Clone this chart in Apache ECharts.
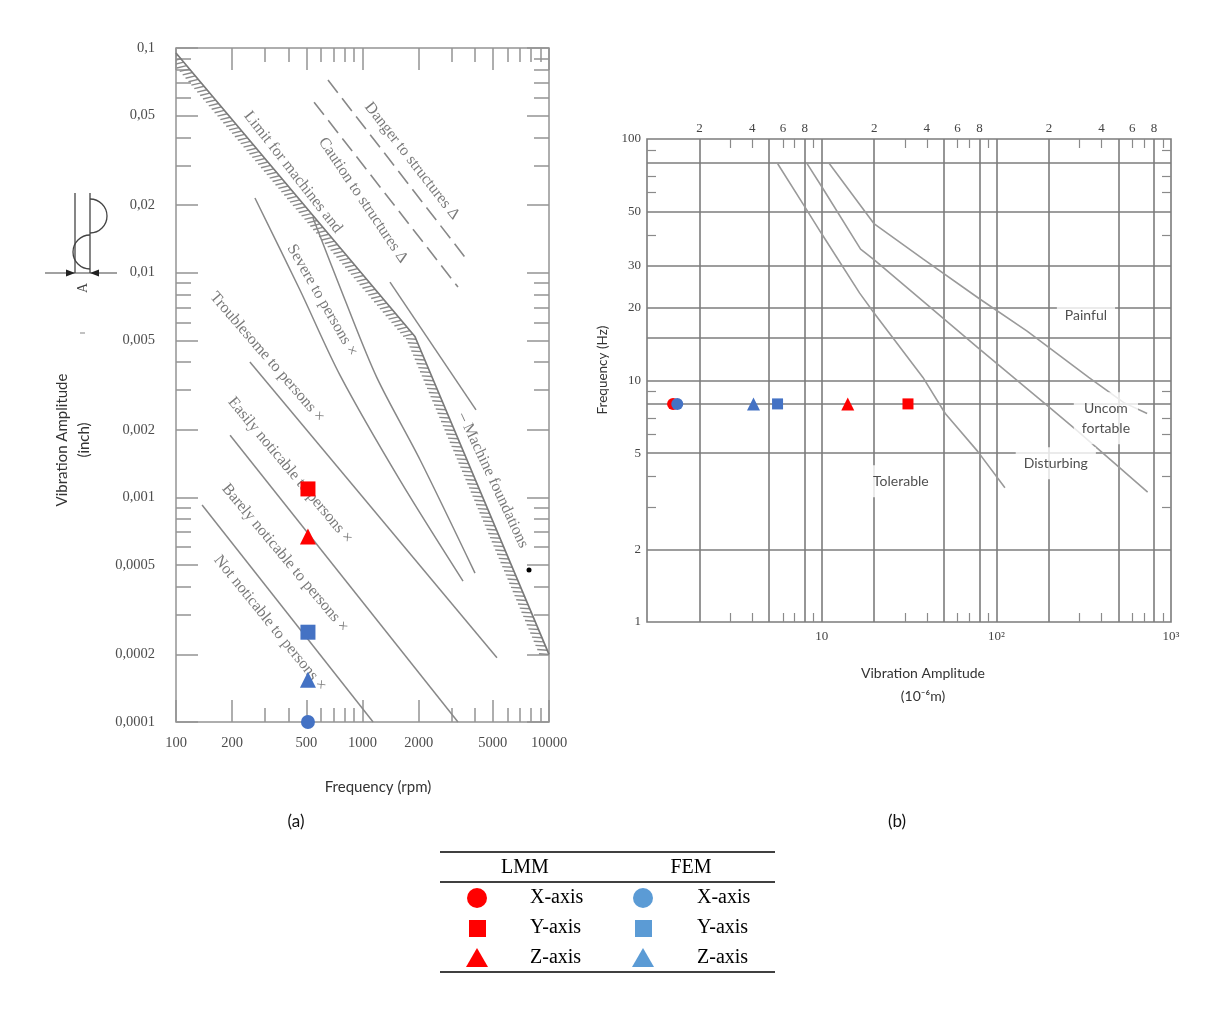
<!DOCTYPE html>
<html>
<head>
<meta charset="utf-8">
<title>Vibration limits</title>
<script src="https://cdn.jsdelivr.net/npm/echarts@6/dist/echarts.min.js"></script>
<style>
  html, body { margin: 0; background: #fff; }
  #chart { width: 1210px; height: 1011px; }
</style>
</head>
<body>
<div id="chart"></div>
<script>
// ---------- (a) amplitude (inch) against frequency (rpm) ----------
const rpmTicks = [100, 200, 500, 1000, 2000, 5000, 10000];
const rpmMinor = [300, 400, 600, 700, 800, 900, 3000, 4000, 6000, 7000, 8000, 9000];
const inchTicks = [0.0001, 0.0002, 0.0005, 0.001, 0.002, 0.005, 0.01, 0.02, 0.05, 0.1];
const inchTickText = ['0,0001', '0,0002', '0,0005', '0,001', '0,002', '0,005', '0,01', '0,02', '0,05', '0,1'];
const inchMinor = [0.0003, 0.0004, 0.0006, 0.0007, 0.0008, 0.0009,
  0.003, 0.004, 0.006, 0.007, 0.008, 0.009, 0.03, 0.04, 0.06, 0.07, 0.08, 0.09];

// boundary lines, [rpm, inch]
const notNoticeableTop = [[138, 0.000924], [1140, 0.0001]];
const barelyTop = [[195, 0.00189], [3250, 0.0001]];
const easilyTop = [[249, 0.0040], [5260, 0.000193]];
const troublesomeTop = [[265, 0.0215], [462, 0.00837], [757, 0.0035], [1590, 0.00119], [3460, 0.000424]];
const severeTop = [[543, 0.0175], [806, 0.00755], [1196, 0.0034], [2034, 0.00147], [4011, 0.00046]];
const machineLimit = [[100, 0.095], [1910, 0.0052], [10000, 0.0002]];
const foundationLine = [[1404, 0.00908], [4060, 0.00245]];
const cautionLine = [[550, 0.0574], [3251, 0.00863]];
const dangerLine = [[653, 0.072], [3634, 0.0114]];
const blackDot = [[7813, 0.000475]];

// text along the lines: [text, rpm, inch]
const leftNotes = [
  ['Danger to structures \u0394', 1842, 0.0314],
  ['Caution to structures \u0394', 1006, 0.0210],
  ['Limit for machines and', 424, 0.0280],
  ['Severe to persons \u00d7', 607, 0.00755],
  ['Troublesome to persons \u00d7', 308, 0.00421],
  ['Easily noticable to persons \u00d7', 409, 0.00132],
  ['Barely noticable to persons \u00d7', 384, 0.000537],
  ['Not noticable to persons \u00d7', 319, 0.000276],
  ['\u2013 Machine foundations', 5010, 0.00119]
];
const leftNoteAngles = [-52, -56, -52, -60, -49, -50, -50, -51, -65];

// results at about 510 rpm (LMM X lies below 0,0001)
const lmmRpmY = [[510, 0.00109]];
const lmmRpmZ = [[510, 0.00067]];
const femRpmX = [[510, 0.0001]];
const femRpmY = [[510, 0.000251]];
const femRpmZ = [[510, 0.000154]];

// ---------- (b) frequency (Hz) against amplitude (1e-6 m) ----------
const umGrid = [2, 5, 8, 10, 20, 50, 80, 100, 200, 500, 800];
const umMinor = [3, 4, 6, 7, 9, 30, 40, 60, 70, 90, 300, 400, 600, 700, 900];
const umTop = [2, 4, 6, 8, 20, 40, 60, 80, 200, 400, 600, 800];
const umBottom = [10, 100, 1000];
const umBottomText = ['10', '10\u00b2', '10\u00b3'];
const hzGrid = [2, 5, 8, 10, 15, 20, 30, 50, 80];
const hzMinor = [3, 4, 6, 7, 9, 40, 60, 70, 90];
const hzLabels = [1, 2, 5, 10, 20, 30, 50, 100];

const tolerableTop = [[5.6, 79], [7.8, 54], [10, 40.5], [16.5, 23], [20, 19], [38, 10.3], [51, 7.3], [78, 5.1], [112, 3.6]];
const disturbingTop = [[8.2, 79.6], [10.1, 62.8], [16.7, 35], [20, 31.6], [38, 21.3], [78, 13.7], [203, 7.7], [290, 6.2], [735, 3.45]];
const uncomfortableTop = [[11, 79.6], [20, 44.5], [38, 31.9], [80, 21.8], [150, 16], [338, 10.3], [537, 8.1], [730, 7.3]];

const rightNotes = [
  ['Painful', 326, 18.6],
  ['Uncom\nfortable', 424, 6.97],
  ['Disturbing', 219, 4.54],
  ['Tolerable', 28.4, 3.83]
];

// results at 8 Hz
const lmmHzX = [[1.41, 8]];
const lmmHzY = [[31.2, 8]];
const lmmHzZ = [[14.1, 8]];
const femHzX = [[1.49, 8]];
const femHzY = [[5.59, 8]];
const femHzZ = [[4.07, 8]];

// ---------- styles ----------
const RED = '#ff0000';
const BLUE = '#4472c4';
const BLUE_LEGEND = '#5b9bd5';
const SERIF = '"Liberation Serif", "DejaVu Serif", serif';
const SANS = 'Lato, "Noto Sans", sans-serif';
const tickA = { color: '#949494', width: 1.5 };
const tickB = { color: '#8a8a8a', width: 1.2 };
const gridLineB = { color: '#7c7c7c', width: 1.6 };

const chart = echarts.init(document.getElementById('chart'));

function ticksOnly(gridIndex, position, min, max, values, length, lineStyle) {
  return {
    type: 'log', logBase: 10, gridIndex, position, min, max,
    axisLine: { show: false },
    splitLine: { show: false },
    axisLabel: { show: false },
    axisTick: { show: true, inside: true, length, customValues: values, lineStyle }
  };
}

function withLabels(axis, values, formatter, margin, extra) {
  axis.axisLabel = Object.assign({
    show: true, customValues: values, formatter, margin,
    fontFamily: SERIF, fontSize: 14.5, color: '#4d4d4d'
  }, extra || {});
  return axis;
}

function findText(values, texts, v) {
  for (let i = 0; i < values.length; i++) {
    if (Math.abs(Math.log10(v / values[i])) < 1e-6) return texts[i];
  }
  return '';
}

const xAxes = [
  withLabels(ticksOnly(0, 'bottom', 100, 10000, rpmTicks, 22, tickA), rpmTicks, v => String(Math.round(v)), 14),
  ticksOnly(0, 'bottom', 100, 10000, rpmMinor, 14, tickA),
  ticksOnly(0, 'top', 100, 10000, rpmTicks, 22, tickA),
  ticksOnly(0, 'top', 100, 10000, rpmMinor, 14, tickA),
  withLabels(ticksOnly(1, 'bottom', 1, 1000, umGrid, 483, gridLineB), umBottom,
    v => findText(umBottom, umBottomText, v), 8, { fontSize: 13, color: '#444' }),
  ticksOnly(1, 'bottom', 1, 1000, umMinor, 9, tickB),
  withLabels(ticksOnly(1, 'top', 1, 1000, umMinor, 9, tickB), umTop,
    v => String(Math.round(v))[0], 4, { fontSize: 13, color: '#444' })
];

const yAxes = [
  withLabels(ticksOnly(0, 'left', 0.0001, 0.1, inchTicks, 22, tickA), inchTicks,
    v => findText(inchTicks, inchTickText, v), 21),
  ticksOnly(0, 'left', 0.0001, 0.1, inchMinor, 15, tickA),
  ticksOnly(0, 'right', 0.0001, 0.1, inchTicks, 22, tickA),
  ticksOnly(0, 'right', 0.0001, 0.1, inchMinor, 15, tickA),
  withLabels(ticksOnly(1, 'left', 1, 100, hzGrid, 524, gridLineB), hzLabels,
    v => String(Math.round(v)), 6, { fontSize: 13, color: '#444' }),
  ticksOnly(1, 'left', 1, 100, hzMinor, 9, tickB),
  ticksOnly(1, 'right', 1, 100, hzMinor, 9, tickB)
];

function lineA(data, extra) {
  return Object.assign({
    type: 'line', xAxisIndex: 0, yAxisIndex: 0, data, symbol: 'none', silent: true, z: 2,
    lineStyle: { color: '#888', width: 1.5 }
  }, extra || {});
}

function lineB(data) {
  return {
    type: 'line', xAxisIndex: 4, yAxisIndex: 4, data, symbol: 'none', silent: true, z: 2,
    lineStyle: { color: '#9a9a9a', width: 1.6 }
  };
}

function marks(axisIdx, data, symbol, size, color) {
  return {
    type: 'scatter', xAxisIndex: axisIdx, yAxisIndex: axisIdx, data, symbol, symbolSize: size,
    itemStyle: { color, opacity: 1 }, z: 6, silent: true
  };
}

// hatching on the lower side of the machine limit
const hatchSegments = machineLimit.slice(1).map((p, i) => [machineLimit[i][0], machineLimit[i][1], p[0], p[1]]);

const series = [
  lineA(notNoticeableTop),
  lineA(barelyTop),
  lineA(easilyTop),
  lineA(troublesomeTop, { smooth: 0.3 }),
  lineA(severeTop, { smooth: 0.3 }),
  lineA(machineLimit, { lineStyle: { color: '#7a7a7a', width: 1.7 } }),
  lineA(foundationLine),
  lineA(cautionLine, { lineStyle: { color: '#888', width: 1.6, type: [16, 7] } }),
  lineA(dangerLine, { lineStyle: { color: '#888', width: 1.6, type: [16, 7] } }),
  {
    type: 'custom', xAxisIndex: 0, yAxisIndex: 0, data: hatchSegments, clip: true, silent: true, z: 2,
    encode: { x: [0, 2], y: [1, 3] },
    renderItem(params, api) {
      const p0 = api.coord([api.value(0), api.value(1)]);
      const p1 = api.coord([api.value(2), api.value(3)]);
      const dx = p1[0] - p0[0], dy = p1[1] - p0[1];
      const len = Math.hypot(dx, dy);
      const ux = dx / len, uy = dy / len;
      const nx = -uy, ny = ux;
      const hx = 10 * (0.9 * nx - 0.45 * ux), hy = 10 * (0.9 * ny - 0.45 * uy);
      const children = [];
      for (let s = 3; s < len; s += 4.5) {
        const x = p0[0] + ux * s, y = p0[1] + uy * s;
        children.push({
          type: 'line',
          shape: { x1: x, y1: y, x2: x + hx, y2: y + hy },
          style: { stroke: '#8a8a8a', lineWidth: 1.4 }
        });
      }
      return { type: 'group', children };
    }
  },
  {
    type: 'scatter', xAxisIndex: 0, yAxisIndex: 0, symbolSize: 1, silent: true, z: 4,
    itemStyle: { color: 'rgba(0,0,0,0)' },
    data: leftNotes.map((n, i) => ({ value: [n[1], n[2]], name: n[0], label: { rotate: leftNoteAngles[i] } })),
    label: { show: true, position: 'inside', formatter: '{b}', fontFamily: SERIF, fontSize: 16, color: '#575757' }
  },
  marks(0, blackDot, 'circle', 5, '#000'),
  marks(0, lmmRpmY, 'rect', 15, RED),
  marks(0, lmmRpmZ, 'triangle', 16, RED),
  marks(0, femRpmY, 'rect', 15, BLUE),
  marks(0, femRpmZ, 'triangle', 16, BLUE),
  marks(0, femRpmX, 'circle', 14, BLUE),

  lineB(tolerableTop),
  lineB(disturbingTop),
  lineB(uncomfortableTop),
  {
    type: 'scatter', xAxisIndex: 4, yAxisIndex: 4, symbolSize: 1, silent: true, z: 5,
    itemStyle: { color: 'rgba(0,0,0,0)' },
    data: rightNotes.map(n => ({ value: [n[1], n[2]], name: n[0] })),
    label: {
      show: true, position: 'inside', formatter: '{b}', fontFamily: SANS, fontSize: 14,
      lineHeight: 20, color: '#222', backgroundColor: '#fff', padding: [6, 8]
    }
  },
  marks(4, lmmHzX, 'circle', 12, RED),
  marks(4, femHzX, 'circle', 12, BLUE),
  marks(4, femHzZ, 'triangle', 13, BLUE),
  marks(4, femHzY, 'rect', 11, BLUE),
  marks(4, lmmHzZ, 'triangle', 13, RED),
  marks(4, lmmHzY, 'rect', 11, RED)
];

const ink = '#333';
function txt(x, y, text, size, extra) {
  return Object.assign({
    type: 'text', x, y, silent: true,
    style: { text, fontFamily: SANS, fontSize: size, fill: ink, align: 'center', verticalAlign: 'middle', lineHeight: 22 }
  }, extra || {});
}
function rule(x1, y1, x2, y2, w, color) {
  return { type: 'line', silent: true, shape: { x1, y1, x2, y2 }, style: { stroke: color || '#000', lineWidth: w } };
}
function serifText(x, y, text, align) {
  return {
    type: 'text', x, y, silent: true,
    style: { text, fontFamily: SERIF, fontSize: 20, fill: '#000', align: align || 'left', verticalAlign: 'middle' }
  };
}

const graphic = [
  // amplitude sketch beside panel (a)
  rule(75, 193, 75, 273, 1.3, '#444'),
  rule(90, 193, 90, 273, 1.3, '#444'),
  { type: 'arc', silent: true, shape: { cx: 90, cy: 216, r: 17, startAngle: -Math.PI / 2, endAngle: Math.PI / 2, clockwise: true },
    style: { stroke: '#444', fill: null, lineWidth: 1.3 } },
  { type: 'arc', silent: true, shape: { cx: 90, cy: 252, r: 17, startAngle: -Math.PI / 2, endAngle: Math.PI / 2, clockwise: false },
    style: { stroke: '#444', fill: null, lineWidth: 1.3 } },
  rule(45, 273, 117, 273, 1.2, '#444'),
  { type: 'polygon', silent: true, shape: { points: [[75, 273], [66, 269.5], [66, 276.5]] }, style: { fill: '#222' } },
  { type: 'polygon', silent: true, shape: { points: [[90, 273], [99, 269.5], [99, 276.5]] }, style: { fill: '#222' } },
  { type: 'text', x: 83, y: 288, rotation: Math.PI / 2, silent: true,
    style: { text: 'A', fontFamily: SERIF, fontSize: 14, fill: '#444', align: 'center', verticalAlign: 'middle' } },
  rule(80, 333, 85, 333, 1.2, '#999'),

  // axis titles and panel letters
  txt(73, 440, 'Vibration Amplitude\n(inch)', 15, { rotation: Math.PI / 2 }),
  txt(378, 787, 'Frequency (rpm)', 15),
  txt(603, 370, 'Frequency (Hz)', 13.5, { rotation: Math.PI / 2 }),
  txt(923, 673, 'Vibration Amplitude', 14),
  txt(923, 696, '(10\u207b\u2076m)', 14),
  txt(296, 822, '(a)', 17, { style: { text: '(a)', fontFamily: SANS, fontSize: 17, fill: '#111', align: 'center', verticalAlign: 'middle' } }),
  txt(897, 822, '(b)', 17, { style: { text: '(b)', fontFamily: SANS, fontSize: 17, fill: '#111', align: 'center', verticalAlign: 'middle' } }),

  // key table
  rule(440, 852, 775, 852, 1.6),
  serifText(525, 868, 'LMM', 'center'),
  serifText(691, 868, 'FEM', 'center'),
  rule(440, 882, 775, 882, 1.3),
  { type: 'circle', silent: true, shape: { cx: 477, cy: 898, r: 10 }, style: { fill: RED } },
  { type: 'rect', silent: true, shape: { x: 469, y: 920, width: 17, height: 17 }, style: { fill: RED } },
  { type: 'polygon', silent: true, shape: { points: [[477, 948], [466, 967], [488, 967]] }, style: { fill: RED } },
  { type: 'circle', silent: true, shape: { cx: 643, cy: 898, r: 10 }, style: { fill: BLUE_LEGEND } },
  { type: 'rect', silent: true, shape: { x: 635, y: 920, width: 17, height: 17 }, style: { fill: BLUE_LEGEND } },
  { type: 'polygon', silent: true, shape: { points: [[643, 948], [632, 967], [654, 967]] }, style: { fill: BLUE_LEGEND } },
  serifText(530, 898, 'X-axis'),
  serifText(530, 928, 'Y-axis'),
  serifText(530, 958, 'Z-axis'),
  serifText(697, 898, 'X-axis'),
  serifText(697, 928, 'Y-axis'),
  serifText(697, 958, 'Z-axis'),
  rule(440, 972, 775, 972, 1.6)
];

chart.setOption({
  animation: false,
  backgroundColor: '#fff',
  textStyle: { fontFamily: SERIF },
  grid: [
    { left: 176, top: 48, width: 373, height: 674, show: true, borderColor: '#949494', borderWidth: 1.5, outerBoundsMode: 'none' },
    { left: 647, top: 139, width: 524, height: 483, show: true, borderColor: '#7c7c7c', borderWidth: 1.6, outerBoundsMode: 'none' }
  ],
  xAxis: xAxes,
  yAxis: yAxes,
  series,
  graphic
});
</script>
</body>
</html>
